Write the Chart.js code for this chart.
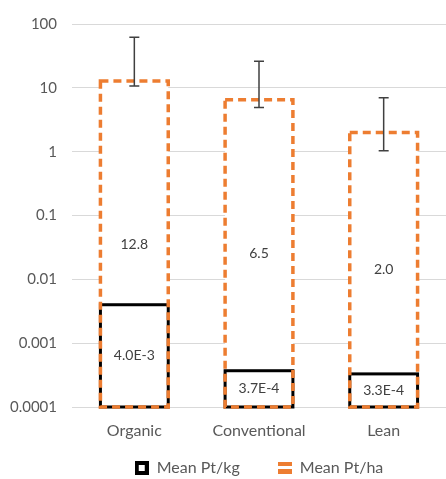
<!DOCTYPE html>
<html>
<head>
<meta charset="utf-8">
<script src="https://cdn.jsdelivr.net/npm/chart.js@4.4.1/dist/chart.umd.min.js"></script>
<style>
  html, body { margin: 0; padding: 0; background: #fff; }
</style>
</head>
<body>
<canvas id="grafico" width="446" height="479"></canvas>
<script>
const categorias = ["Organic", "Conventional", "Lean"];
const mediaPtKg = [0.0040, 0.00037, 0.00033];
const mediaPtHa = [12.8, 6.5, 2.0];
const errorHaMin = [10.7, 4.9, 1.03];
const errorHaMax = [62, 26, 7.0];
const etiquetasKg = ["4.0E-3", "3.7E-4", "3.3E-4"];
const etiquetasHa = ["12.8", "6.5", "2.0"];
const ticksY = [0.0001, 0.001, 0.01, 0.1, 1, 10, 100];
const etiquetasTicksY = ["0.0001", "0.001", "0.01", "0.1", "1", "10", "100"];

const NARANJA = "#ED7D31";
const GRIS_TEXTO = "#595959";

// marcadores de la leyenda
function marcadorKg() {
    const c = document.createElement("canvas");
    c.width = 14; c.height = 14;
    const g = c.getContext("2d");
    g.fillStyle = "#000";
    g.fillRect(0, 0, 14, 14);
    g.fillStyle = "#fff";
    g.fillRect(4, 4, 6, 6);
    return c;
}
function marcadorHa() {
    const c = document.createElement("canvas");
    c.width = 14; c.height = 14;
    const g = c.getContext("2d");
    g.fillStyle = NARANJA;
    g.fillRect(0, 1, 14, 4);
    g.fillRect(0, 8, 14, 5);
    return c;
}

// bordes, barras de error y etiquetas
const pluginBordes = {
    id: "bordes",
    afterLayout(chart) {
        // el eje x se deja bajo para que la leyenda quede cerca,
        // pero sus etiquetas no deben recortarse
        chart.scales.x.bottom = chart.height;
    },
    afterDatasetsDraw(chart) {
        const ctx = chart.ctx;
        const escalaY = chart.scales.y;
        const metaKg = chart.getDatasetMeta(0);
        const metaHa = chart.getDatasetMeta(1);
        ctx.save();

        ctx.lineWidth = 3;
        ctx.strokeStyle = "#000";
        metaKg.data.forEach(b => {
            ctx.strokeRect(b.x - b.width / 2, b.y, b.width, b.base - b.y);
        });

        ctx.lineWidth = 3.5;
        ctx.strokeStyle = NARANJA;
        ctx.setLineDash([8, 5]);
        metaHa.data.forEach(b => {
            ctx.strokeRect(b.x - b.width / 2, b.y, b.width, b.base - b.y);
        });
        ctx.setLineDash([]);

        ctx.lineWidth = 1.5;
        ctx.strokeStyle = "#404040";
        metaHa.data.forEach((b, i) => {
            const yMin = escalaY.getPixelForValue(errorHaMin[i]);
            const yMax = escalaY.getPixelForValue(errorHaMax[i]);
            ctx.beginPath();
            ctx.moveTo(b.x, yMin); ctx.lineTo(b.x, yMax);
            ctx.moveTo(b.x - 5, yMin); ctx.lineTo(b.x + 5, yMin);
            ctx.moveTo(b.x - 5, yMax); ctx.lineTo(b.x + 5, yMax);
            ctx.stroke();
        });

        ctx.fillStyle = "#404040";
        ctx.font = "14px Lato";
        ctx.textAlign = "center";
        ctx.textBaseline = "middle";
        metaHa.data.forEach((b, i) => {
            ctx.fillText(etiquetasHa[i], b.x, (b.y + b.base) / 2);
        });
        metaKg.data.forEach((b, i) => {
            ctx.fillText(etiquetasKg[i], b.x, (b.y + b.base) / 2);
        });
        ctx.restore();
    }
};

const ctx = document.getElementById("grafico").getContext("2d");
new Chart(ctx, {
    type: "bar",
    data: {
        labels: categorias,
        datasets: [
            {
                label: "Mean Pt/kg",
                data: mediaPtKg,
                backgroundColor: "#fff",
                borderWidth: 0
            },
            {
                label: "Mean Pt/ha",
                data: mediaPtHa,
                backgroundColor: "#fff",
                borderWidth: 0
            }
        ]
    },
    options: {
        responsive: false,
        animation: false,
        categoryPercentage: 0.8,
        barPercentage: 0.68,
        layout: { padding: { top: 22, right: 0, bottom: -7, left: 0 } },
        scales: {
            x: {
                stacked: true,
                grid: { display: false },
                border: { display: false },
                ticks: { color: GRIS_TEXTO, font: { family: "Lato", size: 16 }, padding: 6 },
                afterFit(escala) { escala.height = 15; }
            },
            y: {
                type: "logarithmic",
                min: 0.0001,
                max: 100,
                grid: { color: "#d9d9d9", drawTicks: false },
                border: { display: false },
                afterBuildTicks(escala) {
                    escala.ticks = ticksY.map(v => ({ value: v }));
                },
                ticks: {
                    color: GRIS_TEXTO,
                    font: { family: "Lato", size: 15 },
                    padding: 15,
                    callback: (v, i) => etiquetasTicksY[i]
                },
                afterFit(escala) { escala.width = 72; }
            }
        },
        plugins: {
            legend: {
                position: "bottom",
                fullSize: false,
                labels: {
                    usePointStyle: true,
                    boxWidth: 14,
                    padding: 38,
                    color: GRIS_TEXTO,
                    font: { family: "Lato", size: 16 },
                    generateLabels() {
                        return [
                            { text: "Mean Pt/kg", pointStyle: marcadorKg(), fontColor: GRIS_TEXTO, datasetIndex: 0, lineWidth: 0 },
                            { text: "Mean Pt/ha", pointStyle: marcadorHa(), fontColor: GRIS_TEXTO, datasetIndex: 1, lineWidth: 0 }
                        ];
                    }
                }
            },
            tooltip: { enabled: false }
        }
    },
    plugins: [pluginBordes]
});
</script>
</body>
</html>
